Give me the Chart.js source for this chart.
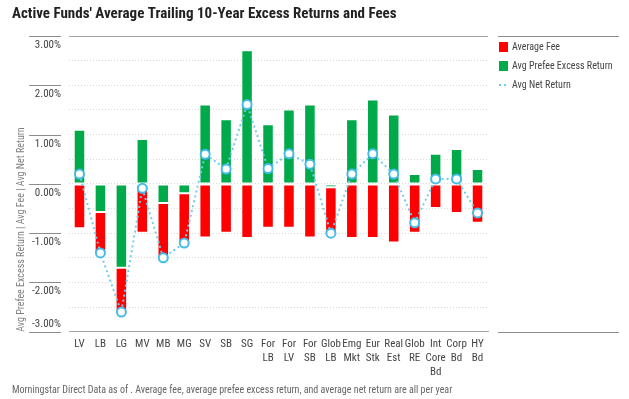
<!DOCTYPE html>
<html>
<head>
<meta charset="utf-8">
<script src="https://cdn.jsdelivr.net/npm/chart.js@4"></script>
<style>
  html, body { margin: 0; padding: 0; background: #fff; }
  #wrap { width: 629px; height: 399px; }
</style>
</head>
<body>
<div id="wrap"><canvas id="feesChart"></canvas></div>
<script>
// Categories (multi-line labels as arrays)
const categories = [
  'LV', 'LB', 'LG', 'MV', 'MB', 'MG', 'SV', 'SB', 'SG',
  ['For', 'LB'], ['For', 'LV'], ['For', 'SB'], ['Glob', 'LB'], ['Emg', 'Mkt'],
  ['Eur', 'Stk'], ['Real', 'Est'], ['Glob', 'RE'], ['Int', 'Core', 'Bd'], ['Corp', 'Bd'], ['HY', 'Bd']
];

// Values in percent
const averageFee = [0.90, 0.83, 0.89, 0.99, 1.10, 1.00, 1.09, 0.99, 1.10, 0.89, 0.89, 1.09, 0.93, 1.10, 1.10, 1.19, 0.99, 0.49, 0.59, 0.79];
const prefeeExcess = [1.10, -0.57, -1.70, 0.91, -0.39, -0.19, 1.61, 1.31, 2.71, 1.21, 1.51, 1.61, -0.07, 1.31, 1.71, 1.41, 0.20, 0.61, 0.71, 0.30];
const netReturn = [0.20, -1.40, -2.60, -0.09, -1.50, -1.20, 0.60, 0.30, 1.61, 0.31, 0.61, 0.40, -1.00, 0.20, 0.61, 0.20, -0.79, 0.10, 0.10, -0.59];

// Y axis tick labels (every 1%, grid every 0.5%)
const yLabelValues = [3, 2, 1, 0, -1, -2, -3];
const yMin = -3;
const yMax = 3;

// condensed look: ask for a condensed stretch through the weight slot of the font string
const narrow = "'Roboto Condensed', 'Liberation Sans Narrow', 'DejaVu Sans Condensed', Roboto, sans-serif";
const REG = 'condensed';
const BOLD = 'bold condensed';
Chart.defaults.font.family = narrow;
Chart.defaults.font.size = 11;
Chart.defaults.font.weight = REG;
Chart.defaults.color = '#444';

// Extra drawing: solid top rule, y labels with short rules, custom legend
const decorations = {
  id: 'decorations',
  afterDraw(chart) {
    const { ctx, chartArea } = chart;
    const y = chart.scales.y;
    ctx.save();
    ctx.strokeStyle = '#a6a6a6';
    ctx.lineWidth = 1;

    const rule = (x1, yy, x2) => {
      ctx.beginPath();
      ctx.moveTo(x1, yy);
      ctx.lineTo(x2, yy);
      ctx.stroke();
    };

    rule(chartArea.left, Math.round(chartArea.top) + 0.5, chartArea.right);

    // y labels sit under their rule (the last one above it)
    ctx.font = REG + ' 11px ' + narrow;
    const labelRight = chartArea.left - 8;
    const labelWidth = ctx.measureText('-3.00%').width;
    ctx.textAlign = 'right';
    ctx.textBaseline = 'middle';
    yLabelValues.forEach(v => {
      const py = Math.round(y.getPixelForValue(v)) + 0.5;
      ctx.strokeStyle = '#8c8c8c';
      rule(labelRight - labelWidth - 3, py, labelRight);
      ctx.fillStyle = '#444';
      ctx.fillText(v.toFixed(2) + '%', labelRight, v === yMin ? py - 8 : py + 9);
    });

    // legend box on the right
    const lx = chartArea.right + 10;
    const rx = chart.width - 10;
    ctx.strokeStyle = '#8c8c8c';
    rule(lx, Math.round(chartArea.top) + 0.5, rx);
    rule(lx, Math.round(chartArea.bottom) + 0.5, rx);

    const order = [1, 0, 2]; // fee, excess, net
    ctx.font = REG + ' 10px ' + narrow;
    ctx.textAlign = 'left';
    order.forEach((dsIndex, i) => {
      const ds = chart.data.datasets[dsIndex];
      const cy = chartArea.top + 11 + i * 19;
      if (ds.type === 'line') {
        ctx.save();
        ctx.strokeStyle = ds.borderColor;
        ctx.lineWidth = 2;
        ctx.setLineDash([2, 3]);
        rule(lx + 1, cy, lx + 10);
        ctx.restore();
      } else {
        ctx.fillStyle = ds.backgroundColor;
        ctx.fillRect(lx + 1, cy - 5, 9, 10);
      }
      ctx.fillStyle = '#444';
      ctx.fillText(ds.label, lx + 14, cy);
    });
    ctx.restore();
  }
};

const ctx = document.getElementById('feesChart').getContext('2d');
const feesChart = new Chart(ctx, {
  type: 'bar',
  data: {
    labels: categories,
    datasets: [
      {
        label: 'Avg Prefee Excess Return',
        data: prefeeExcess,
        backgroundColor: '#00a94a',
        borderColor: 'rgba(255,255,255,0.8)',
        borderWidth: 1,
        borderSkipped: false,
        stack: 'bars',
        order: 1
      },
      {
        label: 'Average Fee',
        data: averageFee.map(v => -v),
        backgroundColor: '#ff0000',
        borderColor: 'rgba(255,255,255,0.8)',
        borderWidth: 1,
        borderSkipped: false,
        stack: 'bars',
        order: 2
      },
      {
        type: 'line',
        label: 'Avg Net Return',
        data: netReturn,
        borderColor: '#6fcdf0',
        borderWidth: 2,
        borderDash: [2, 3],
        pointRadius: 4.5,
        pointBackgroundColor: '#ffffff',
        pointBorderColor: '#45bde9',
        pointBorderWidth: 2,
        tension: 0,
        stack: 'net',
        order: 0
      }
    ]
  },
  options: {
    responsive: true,
    maintainAspectRatio: false,
    animation: false,
    layout: { padding: { left: 12, right: 141, top: 0, bottom: 0 } },
    datasets: {
      bar: { categoryPercentage: 1, barPercentage: 0.55 }
    },
    plugins: {
      legend: { display: false },
      tooltip: { enabled: false },
      title: {
        display: true,
        text: "Active Funds' Average Trailing 10-Year Excess Returns and Fees",
        align: 'start',
        color: '#222',
        font: { size: 15, weight: BOLD, family: narrow },
        padding: { top: 5, bottom: 13 }
      },
      subtitle: {
        display: true,
        position: 'bottom',
        align: 'start',
        text: 'Morningstar Direct Data as of . Average fee, average prefee excess return, and average net return are all per year',
        color: '#666',
        font: { size: 10, family: narrow },
        padding: { top: 0, bottom: 3 }
      }
    },
    scales: {
      x: {
        stacked: true,
        grid: { display: false, drawTicks: false },
        border: { display: true, color: '#a6a6a6' },
        ticks: { color: '#444', maxRotation: 0, autoSkip: false, padding: 5, font: { lineHeight: 1.28 } }
      },
      y: {
        stacked: true,
        min: yMin,
        max: yMax,
        afterFit: scale => { scale.width = 57; },
        grid: { color: '#d9d9d9', drawTicks: false },
        border: { display: false, dash: [1, 2] },
        ticks: { stepSize: 0.5, display: false },
        title: {
          display: true,
          text: 'Avg Prefee Excess Return | Avg Fee | Avg Net Return',
          align: 'start',
          color: '#808080',
          font: { size: 10, family: narrow },
          padding: { top: 3, bottom: 0 }
        }
      }
    }
  },
  plugins: [decorations]
});
</script>
</body>
</html>
